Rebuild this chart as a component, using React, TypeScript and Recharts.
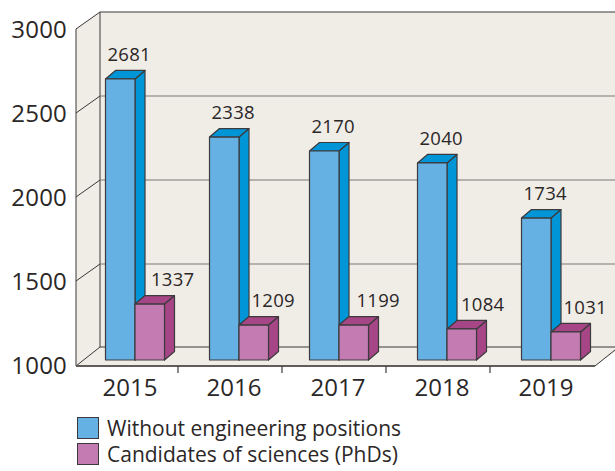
import { BarChart, Bar, XAxis, YAxis, Legend, LabelList, ReferenceArea, ReferenceLine } from 'recharts';

const years = ['2015', '2016', '2017', '2018', '2019'];
// Printed labels do not match the drawn heights in the picture, so both are kept
const withoutEngineeringPrinted = [2681, 2338, 2170, 2040, 1734];
const withoutEngineeringDrawn = [2673, 2327, 2244, 2173, 1845];
const candidatesPrinted = [1337, 1209, 1199, 1084, 1031];
const candidatesDrawn = [1333, 1208, 1208, 1185, 1167];
const yTicks = [1000, 1500, 2000, 2500, 3000];
const gridValues = [1500, 2000, 2500];

const chartData = years.map((year, i) => ({
    year,
    blue: withoutEngineeringDrawn[i],
    blueLabel: withoutEngineeringPrinted[i],
    pink: candidatesDrawn[i],
    pinkLabel: candidatesPrinted[i],
}));

const FONT = '"Open Sans", sans-serif';
const INK = '#2b2727';
const EDGE = '#3c3a3c';
const WALL = '#f0ece6';
const DEPTH_X = 10;
const DEPTH_Y = 8.5;
const WALL_X = 100; // back wall
const WALL_FRONT_X = 76; // front edge of side wall
const BACK_DY = -12;
const FRONT_DY = 5;

// 2017 sits a little left of the regular spacing in the original
const groupNudge = [0, 0, -4, 0, 0];
const pinkLabelNudge = [1.5, -2, 3, -0.5, -2];

const Box3D = (front: string, dark: string) => (props: any) => {
    const { x, y, width, height, index } = props;
    const left = x + groupNudge[index] - 0.5;
    const right = left + width;
    const bottom = y + height;
    return (
        <g stroke={EDGE} strokeWidth={1.2} strokeLinejoin="round">
            <polygon
                points={`${right},${y} ${right + DEPTH_X},${y - DEPTH_Y} ${right + DEPTH_X},${bottom - DEPTH_Y} ${right},${bottom}`}
                fill={dark}
            />
            <polygon
                points={`${left},${y} ${left + DEPTH_X},${y - DEPTH_Y} ${right + DEPTH_X},${y - DEPTH_Y} ${right},${y}`}
                fill={dark}
            />
            <rect x={left} y={y} width={width} height={height} fill={front} />
        </g>
    );
};

// Side wall, back wall and floor around the plot area
const Walls = (props: any) => {
    const { x, y, height } = props;
    const top = y;
    const floor = y + height;
    const backTop = top + BACK_DY;
    const backFloor = floor - 13;
    const frontTop = top + FRONT_DY;
    const frontFloor = floor + 6;
    const frontRight = x + 512;
    return (
        <g>
            <polygon
                points={`${WALL_FRONT_X},${frontTop} ${WALL_X},${backTop} 615,${backTop} 615,${backFloor + 5} ${frontRight},${frontFloor} ${WALL_FRONT_X},${frontFloor}`}
                fill={WALL}
            />
            <g stroke="#3a3838" strokeWidth={1} fill="none">
                <path d={`M${WALL_FRONT_X},${frontFloor} V${frontTop} L${WALL_X},${backTop} V${backFloor} L${WALL_FRONT_X},${frontFloor}`} />
                <path d={`M${WALL_X},${backTop} H615`} strokeWidth={1.2} />
                <path d={`M${WALL_X},${backFloor} H615`} strokeWidth={1.2} />
                <path d={`M${frontRight},${frontFloor} L615,${frontFloor - 16}`} />
            </g>
            <path d={`M${WALL_FRONT_X},${frontFloor} H${frontRight}`} stroke="#5f5c5a" strokeWidth={2} />
        </g>
    );
};

const GridLine = (props: any) => {
    const y = props.y1;
    return (
        <g fill="none">
            <path d={`M${WALL_FRONT_X},${y + FRONT_DY} L${WALL_X},${y + BACK_DY}`} stroke="#3a3838" strokeWidth={1} />
            <path d={`M${WALL_X},${y + BACK_DY} H615`} stroke="#7b7773" strokeWidth={1.2} />
        </g>
    );
};

const YTick = ({ x, y, payload }: any) => (
    <text x={x - 16} y={y + 14} textAnchor="end" fontFamily={FONT} fontSize={24} letterSpacing={0.2} fill={INK}>
        {payload.value}
    </text>
);

const XTick = ({ x, y, payload, index }: any) => (
    <g>
        {index < years.length - 1 && (
            <path d={`M${x + 43},${y + 6} v7`} stroke={EDGE} strokeWidth={1.2} />
        )}
        <text x={x - 5} y={y + 36} textAnchor="middle" fontFamily={FONT} fontSize={24} fill={INK}>
            {payload.value}
        </text>
    </g>
);

const valueLabel = (dx: (i: number) => number) => (props: any) => {
    const { x, y, width, value, index } = props;
    return (
        <text
            x={x + width / 2 + dx(index)}
            y={y - 18}
            textAnchor="middle"
            fontFamily={FONT}
            fontSize={18.5}
            letterSpacing={0.3}
            fill={INK}
        >
            {value}
        </text>
    );
};

const LegendBox = ({ payload }: any) => (
    <div style={{ fontFamily: FONT, fontSize: 21, color: INK, lineHeight: '26px' }}>
        {(payload || []).map((entry: any) => (
            <div key={entry.value} style={{ display: 'flex', alignItems: 'center', height: 26 }}>
                <span
                    style={{
                        width: 20,
                        height: 20,
                        background: entry.color,
                        border: `1px solid ${EDGE}`,
                        marginRight: 8,
                    }}
                />
                {entry.value}
            </div>
        ))}
    </div>
);

export default function App() {
    return (
        <div style={{ position: 'absolute', left: 0, top: 0, width: 615, height: 471 }}>
            <BarChart
                width={615}
                height={471}
                data={chartData}
                barSize={29.5}
                barGap={0}
                margin={{ top: 24, right: 12, bottom: 71, left: 0 }}
            >
                <ReferenceArea y1={1000} y2={3000} shape={Walls} ifOverflow="visible" />
                {gridValues.map((v) => (
                    <ReferenceLine key={v} y={v} shape={GridLine} zIndex={150} />
                ))}
                <XAxis
                    dataKey="year"
                    axisLine={false}
                    tickLine={false}
                    tickSize={0}
                    tickMargin={0}
                    height={40}
                    interval={0}
                    tick={<XTick />}
                />
                <YAxis
                    type="number"
                    domain={[1000, 3000]}
                    ticks={yTicks}
                    width={83}
                    axisLine={false}
                    tickLine={false}
                    tickSize={0}
                    tickMargin={0}
                    interval={0}
                    tick={<YTick />}
                />
                <Legend
                    layout="vertical"
                    align="center"
                    verticalAlign="middle"
                    itemSorter={null}
                    wrapperStyle={{ left: 77, top: 415, width: 420 }}
                    content={<LegendBox />}
                />
                <Bar
                    dataKey="blue"
                    name="Without engineering positions"
                    fill="#65b1e3"
                    shape={Box3D('#65b1e3', '#0095d6')}
                    isAnimationActive={false}
                >
                    <LabelList dataKey="blueLabel" content={valueLabel((i) => 8.5 + groupNudge[i])} />
                </Bar>
                <Bar
                    dataKey="pink"
                    name="Candidates of sciences (PhDs)"
                    fill="#c47bb2"
                    shape={Box3D('#c47bb2', '#a64686')}
                    isAnimationActive={false}
                >
                    <LabelList dataKey="pinkLabel" content={valueLabel((i) => 21 + pinkLabelNudge[i] + groupNudge[i])} />
                </Bar>
            </BarChart>
        </div>
    );
}
